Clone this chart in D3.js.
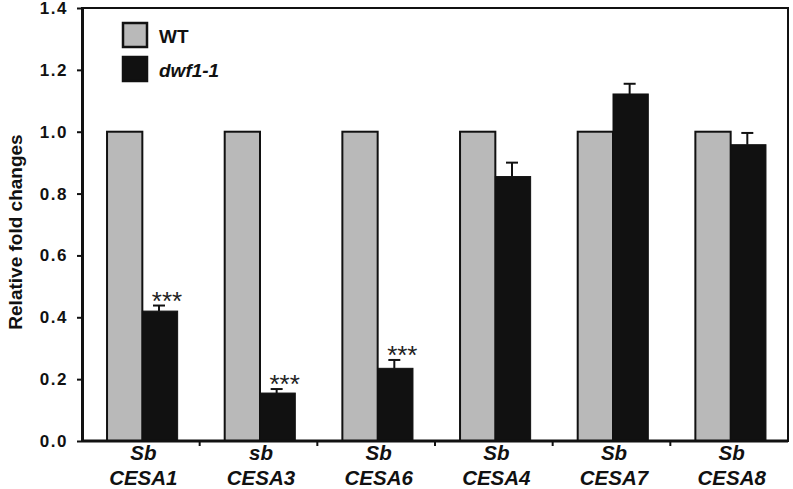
<!DOCTYPE html>
<html>
<head>
<script src="https://cdnjs.cloudflare.com/ajax/libs/d3/7.8.5/d3.min.js"></script>
<style>
  body { margin: 0; background: #fff; }
  text { font-family: 'Liberation Sans', Arial, sans-serif; font-weight: bold; }
</style>
</head>
<body>
<script>
var genes = ["CESA1", "CESA3", "CESA6", "CESA4", "CESA7", "CESA8"];
var prefixes = ["Sb", "sb", "Sb", "Sb", "Sb", "Sb"];
var wt = [1, 1, 1, 1, 1, 1];
var dwf = [0.42, 0.155, 0.235, 0.855, 1.122, 0.958];
var dwfErr = [0.018, 0.013, 0.027, 0.045, 0.033, 0.038];
var stars = ["***", "***", "***", "", "", ""];
var yTicks = [0, 0.2, 0.4, 0.6, 0.8, 1.0, 1.2, 1.4];

var width = 793, height = 489;
var margin = {top: 8, right: 5, bottom: 48, left: 82};
var w = width - margin.left - margin.right;
var h = height - margin.top - margin.bottom;

var svg = d3.select("body").append("svg")
  .attr("width", width)
  .attr("height", height);

var g = svg.append("g")
  .attr("transform", "translate(" + margin.left + "," + margin.top + ")");

var x = d3.scaleBand().domain(genes).range([0, w]).padding(0);
var y = d3.scaleLinear().domain([0, 1.4]).range([h, 0]);
var bw = x.bandwidth() * 0.3;
var cx = d => x(d) + x.bandwidth() / 2 + 1.5;

// frame
g.append("rect")
  .attr("width", w).attr("height", h)
  .attr("fill", "none").attr("stroke", "#111").attr("stroke-width", 2);

var rows = genes.map(function(d, i) {
  return {gene: d, wt: wt[i], dwf: dwf[i], err: dwfErr[i], star: stars[i]};
});

g.selectAll(".wt").data(rows).enter().append("rect")
  .attr("x", d => cx(d.gene) - bw)
  .attr("y", d => y(d.wt))
  .attr("width", bw)
  .attr("height", d => h - y(d.wt))
  .attr("fill", "#b9b9b9").attr("stroke", "#111").attr("stroke-width", 2);

g.selectAll(".dwf").data(rows).enter().append("rect")
  .attr("x", d => cx(d.gene))
  .attr("y", d => y(d.dwf))
  .attr("width", bw)
  .attr("height", d => h - y(d.dwf))
  .attr("fill", "#111").attr("stroke", "#111").attr("stroke-width", 1);

// error bars (upper only)
var eb = g.selectAll(".err").data(rows).enter().append("g")
  .attr("transform", d => "translate(" + (cx(d.gene) + bw / 2 - 1) + ",0)");
eb.append("line")
  .attr("y1", d => y(d.dwf)).attr("y2", d => y(d.dwf + d.err))
  .attr("stroke", "#111").attr("stroke-width", 2);
eb.append("line")
  .attr("x1", -6).attr("x2", 6)
  .attr("y1", d => y(d.dwf + d.err)).attr("y2", d => y(d.dwf + d.err))
  .attr("stroke", "#111").attr("stroke-width", 2);

g.selectAll(".star").data(rows).enter().append("text")
  .attr("x", d => cx(d.gene) + bw / 2 + 7)
  .attr("y", d => y(d.dwf + d.err) + 4)
  .attr("text-anchor", "middle")
  .style("font-weight", "normal")
  .style("font-size", "26px")
  .attr("fill", "#222")
  .text(d => d.star);

// y axis
var yAxis = g.append("g")
  .call(d3.axisLeft(y).tickValues(yTicks).tickFormat(d3.format(".1f")).tickSize(5).tickPadding(9).tickSizeOuter(0));
yAxis.select(".domain").attr("stroke-width", 3).attr("stroke", "#111");
yAxis.selectAll(".tick line").attr("stroke-width", 2).attr("stroke", "#111");
yAxis.selectAll(".tick text").style("font-size", "17px").style("letter-spacing", "1.5px").attr("fill", "#111");

// x axis: ticks between categories
var bounds = genes.slice(1).map(d => x(d));
var xAxis = g.append("g").attr("transform", "translate(0," + h + ")");
xAxis.append("line").attr("x1", 0).attr("x2", w)
  .attr("stroke", "#111").attr("stroke-width", 3);
xAxis.selectAll(".tk").data(bounds).enter().append("line")
  .attr("x1", d => d).attr("x2", d => d).attr("y1", 0).attr("y2", 5)
  .attr("stroke", "#111").attr("stroke-width", 2);

var lab = xAxis.selectAll(".lab").data(rows).enter().append("text")
  .attr("text-anchor", "middle")
  .style("font-style", "italic")
  .style("font-size", "20.5px")
  .attr("fill", "#111");
lab.append("tspan").attr("x", d => cx(d.gene) + 1).attr("y", 19).text((d, i) => prefixes[i]);
lab.append("tspan").attr("x", d => cx(d.gene) + 1).attr("y", 44).text(d => d.gene);

// y label
svg.append("text")
  .attr("transform", "translate(22,232) rotate(-90)")
  .attr("text-anchor", "middle")
  .style("font-size", "19px")
  .attr("fill", "#111")
  .text("Relative fold changes");

// legend
var legend = [{name: "WT", fill: "#b9b9b9", italic: false}, {name: "dwf1-1", fill: "#111", italic: true}];
var lg = svg.selectAll(".lg").data(legend).enter().append("g")
  .attr("transform", (d, i) => "translate(123," + (23 + i * 34) + ")");
lg.append("rect").attr("width", 24).attr("height", 24)
  .attr("fill", d => d.fill).attr("stroke", "#111").attr("stroke-width", 2.5);
lg.append("text").attr("x", 36).attr("y", 20)
  .style("font-size", "19px")
  .style("font-style", d => d.italic ? "italic" : "normal")
  .attr("fill", "#111")
  .text(d => d.name);
</script>
</body>
</html>
